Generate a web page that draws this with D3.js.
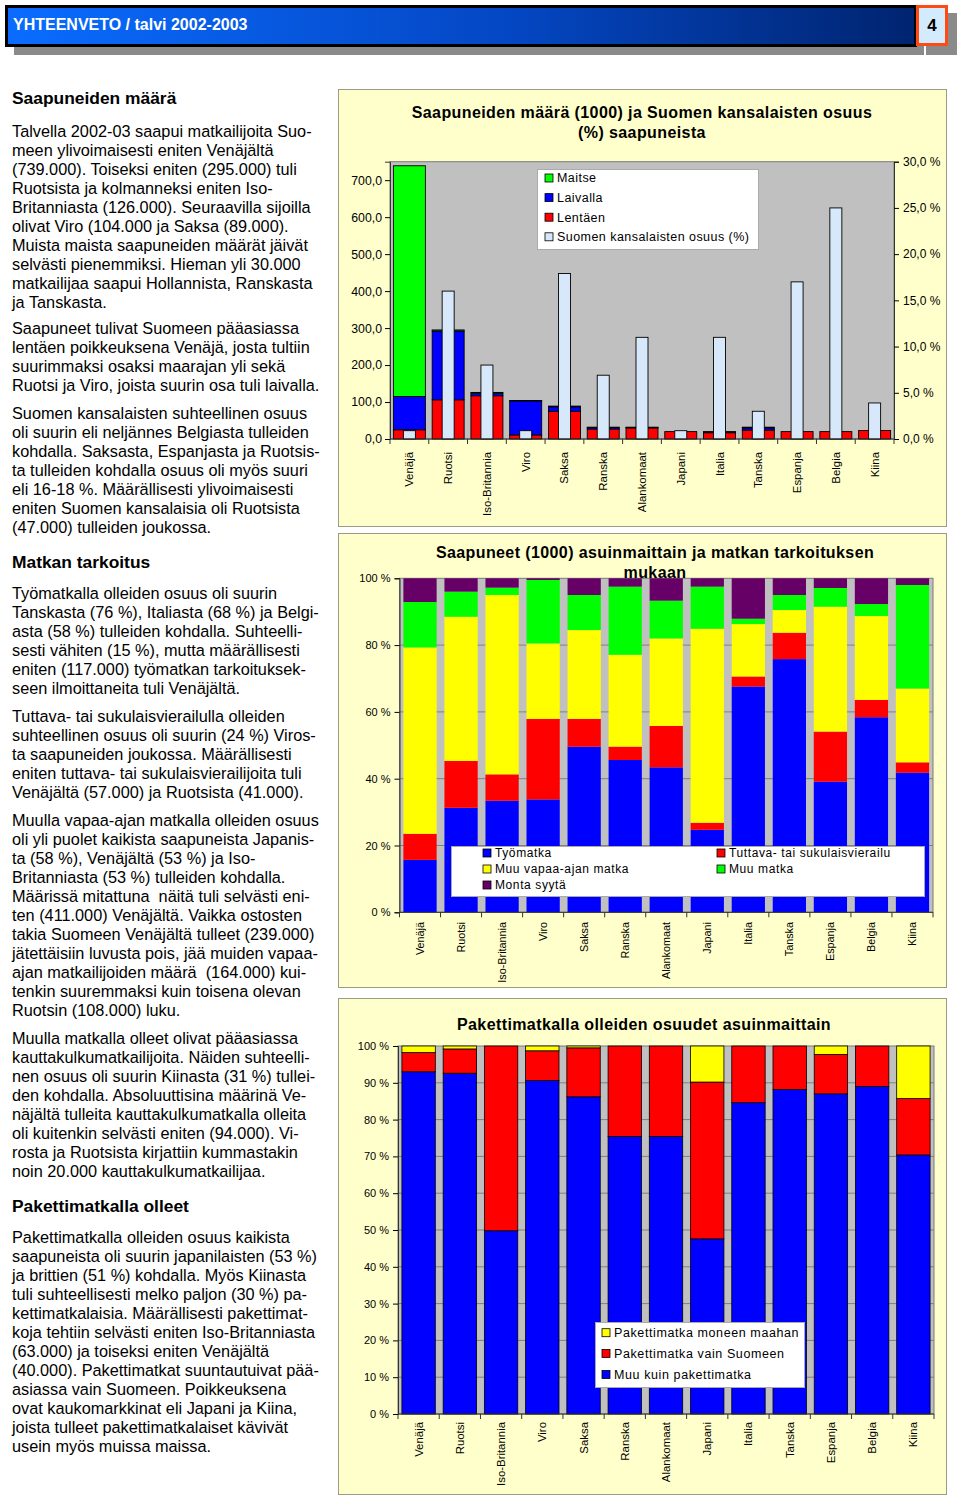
<!DOCTYPE html>
<html><head><meta charset="utf-8">
<script src="https://cdn.jsdelivr.net/npm/d3@7"></script>
<style>
body{margin:0;background:#fff}
svg{display:block}
text{font-family:"Liberation Sans",Arial,sans-serif;white-space:pre}
</style>
</head><body>
<svg id="c" width="960" height="1498"></svg>
<script>
// ---------------- DATA ----------------
const countries = ["Venäjä","Ruotsi","Iso-Britannia","Viro","Saksa","Ranska","Alankomaat","Japani","Italia","Tanska","Espanja","Belgia","Kiina"];

// Chart 1: arrivals (1000) by mode + share of Finnish citizens (%)
const lentaen  = [25,106,117,11,75,27,30,20,17,24,20,20,23];
const laivalla = [90,186,7,92,12,4,1,0,2,6,0,0,0];
const maitse   = [624,3,2,1,2,1,1,0,1,2,0,0,0];
const suomenOsuus = [0.9,16.0,8.0,0.9,17.9,6.9,11.0,0.9,11.0,3.0,17.0,25.0,3.9];
const c1LeftTicks = [0,100,200,300,400,500,600,700];
const c1RightTicks = [0,5,10,15,20,25,30];

// Chart 2: purpose of trip (%)
const tyomatka = [15.7,31.3,33.4,33.8,49.6,45.6,43.4,24.7,67.6,75.8,39.1,58.4,41.8];
const tuttava  = [7.8,14.0,7.9,24.1,8.3,4.0,12.4,2.1,3.0,7.9,15.0,5.2,3.1];
const vapaa    = [55.8,43.2,53.7,22.6,26.6,27.5,26.2,58.1,15.7,6.8,37.4,25.1,22.1];
const muuMatka = [13.6,7.5,2.2,19.0,10.5,20.4,11.3,12.6,1.6,4.5,5.6,3.6,31.0];
const monta    = [7.1,4.0,2.8,0.5,5.0,2.5,6.7,2.5,12.1,5.0,2.9,7.7,2.0];
const c2Ticks = [0,20,40,60,80,100];

// Chart 3: package tours (%)
const muuKuin     = [93.0,92.6,49.8,90.6,86.2,75.4,75.4,47.6,84.6,88.2,87.0,89.0,70.4];
const vainSuomeen = [5.2,6.6,50.2,8.1,13.3,24.6,24.6,42.6,15.4,11.8,10.7,11.0,15.3];
const moneen      = [1.8,0.8,0.0,1.3,0.5,0.0,0.0,9.8,0.0,0.0,2.3,0.0,14.3];
const c3Ticks = [0,10,20,30,40,50,60,70,80,90,100];

// Text column
const textBlocks = [
 {h:true, y:98, lines:["Saapuneiden määrä"]},
 {y:131, lines:["Talvella 2002-03 saapui matkailijoita Suo-","meen ylivoimaisesti eniten Venäjältä","(739.000). Toiseksi eniten (295.000) tuli","Ruotsista ja kolmanneksi eniten Iso-","Britanniasta (126.000). Seuraavilla sijoilla","olivat Viro (104.000 ja Saksa (89.000).","Muista maista saapuneiden määrät jäivät","selvästi pienemmiksi. Hieman yli 30.000","matkailijaa saapui Hollannista, Ranskasta","ja Tanskasta."]},
 {y:328, lines:["Saapuneet tulivat Suomeen pääasiassa","lentäen poikkeuksena Venäjä, josta tultiin","suurimmaksi osaksi maarajan yli sekä","Ruotsi ja Viro, joista suurin osa tuli laivalla."]},
 {y:413, lines:["Suomen kansalaisten suhteellinen osuus","oli suurin eli neljännes Belgiasta tulleiden","kohdalla. Saksasta, Espanjasta ja Ruotsis-","ta tulleiden kohdalla osuus oli myös suuri","eli 16-18 %. Määrällisesti ylivoimaisesti","eniten Suomen kansalaisia oli Ruotsista","(47.000) tulleiden joukossa."]},
 {h:true, y:562, lines:["Matkan tarkoitus"]},
 {y:593, lines:["Työmatkalla olleiden osuus oli suurin","Tanskasta (76 %), Italiasta (68 %) ja Belgi-","asta (58 %) tulleiden kohdalla. Suhteelli-","sesti vähiten (15 %), mutta määrällisesti","eniten (117.000) työmatkan tarkoituksek-","seen ilmoittaneita tuli Venäjältä."]},
 {y:716, lines:["Tuttava- tai sukulaisvierailulla olleiden","suhteellinen osuus oli suurin (24 %) Viros-","ta saapuneiden joukossa. Määrällisesti","eniten tuttava- tai sukulaisvierailijoita tuli","Venäjältä (57.000) ja Ruotsista (41.000)."]},
 {y:820, lines:["Muulla vapaa-ajan matkalla olleiden osuus","oli yli puolet kaikista saapuneista Japanis-","ta (58 %), Venäjältä (53 %) ja Iso-","Britanniasta (53 %) tulleiden kohdalla.","Määrissä mitattuna  näitä tuli selvästi eni-","ten (411.000) Venäjältä. Vaikka ostosten","takia Suomeen Venäjältä tulleet (239.000)","jätettäisiin luvusta pois, jää muiden vapaa-","ajan matkailijoiden määrä  (164.000) kui-","tenkin suuremmaksi kuin toisena olevan","Ruotsin (108.000) luku."]},
 {y:1038, lines:["Muulla matkalla olleet olivat pääasiassa","kauttakulkumatkailijoita. Näiden suhteelli-","nen osuus oli suurin Kiinasta (31 %) tullei-","den kohdalla. Absoluuttisina määrinä Ve-","näjältä tulleita kauttakulkumatkalla olleita","oli kuitenkin selvästi eniten (94.000). Vi-","rosta ja Ruotsista kirjattiin kummastakin","noin 20.000 kauttakulkumatkailijaa."]},
 {h:true, y:1206, lines:["Pakettimatkalla olleet"]},
 {y:1237, lines:["Pakettimatkalla olleiden osuus kaikista","saapuneista oli suurin japanilaisten (53 %)","ja brittien (51 %) kohdalla. Myös Kiinasta","tuli suhteellisesti melko paljon (30 %) pa-","kettimatkalaisia. Määrällisesti pakettimat-","koja tehtiin selvästi eniten Iso-Britanniasta","(63.000) ja toiseksi eniten Venäjältä","(40.000). Pakettimatkat suuntautuivat pää-","asiassa vain Suomeen. Poikkeuksena","ovat kaukomarkkinat eli Japani ja Kiina,","joista tulleet pakettimatkalaiset kävivät","usein myös muissa maissa."]}
];

// ---------------- DRAW ----------------
const svg = d3.select("#c");
const fmtComma = d => d3.format(".1f")(d).replace(".", ",");

// Header
const defs = svg.append("defs");
const hg = defs.append("linearGradient").attr("id","hg").attr("x1","0").attr("x2","1").attr("y1","0").attr("y2","0");
hg.append("stop").attr("offset","0").attr("stop-color","#0a6cff");
hg.append("stop").attr("offset","0.55").attr("stop-color","#0447c4");
hg.append("stop").attr("offset","1").attr("stop-color","#002470");
svg.append("rect").attr("x",14).attr("y",13).attr("width",910).attr("height",42).attr("fill","#8a8a8a");
svg.append("rect").attr("x",5).attr("y",5).attr("width",912).attr("height",42).attr("fill","#000");
svg.append("rect").attr("x",8).attr("y",8).attr("width",906).attr("height",36).attr("fill","url(#hg)");
svg.append("text").attr("x",13).attr("y",30).attr("fill","#fff").attr("font-weight","bold")
  .attr("font-size",16).text("YHTEENVETO / talvi 2002-2003");
svg.append("rect").attr("x",926).attr("y",13).attr("width",31).attr("height",42).attr("fill","#8a8a8a");
svg.append("rect").attr("x",917.5).attr("y",6.5).attr("width",29).attr("height",38)
  .attr("fill","#d3ebff").attr("stroke","#ff4a12").attr("stroke-width",3);
svg.append("text").attr("x",932).attr("y",31).attr("text-anchor","middle").attr("font-weight","bold")
  .attr("font-size",17).text("4");

// Text column
textBlocks.forEach(b => {
  b.lines.forEach((ln, i) => {
    svg.append("text").attr("x",12).attr("y", b.y + i*19).attr("dy","0.35em")
      .attr("font-size", b.h ? 17.4 : 16.3).attr("font-weight", b.h ? "bold" : "normal")
      .attr("fill","#000").text(ln);
  });
});

// Helpers
function panel(x,y,w,h){
  svg.append("rect").attr("x",x+0.5).attr("y",y+0.5).attr("width",w).attr("height",h)
    .attr("fill","#ffffcc").attr("stroke","#9a9a86").attr("stroke-width",1);
}
function title(lines, cx, y0){
  lines.forEach((t,i)=>{
    svg.append("text").attr("x",cx).attr("y",y0+i*20.5).attr("dy","0.35em").attr("text-anchor","middle")
      .attr("font-size",16).attr("font-weight","bold").attr("letter-spacing",0.4).text(t);
  });
}
function catLabels(x, y0, fs){
  svg.append("g").selectAll("text").data(countries).join("text")
    .attr("transform", d => `translate(${x(d)+x.bandwidth()/2},${y0}) rotate(-90)`)
    .attr("text-anchor","end").attr("dy","0.35em").attr("font-size",fs).text(d=>d);
}
function catTicks(x, yb){
  const step = x.step();
  const xs = countries.map(d => x(d) - (step - x.bandwidth())/2);
  xs.push(x.range()[1]);
  svg.append("g").selectAll("line").data(xs).join("line")
    .attr("x1",d=>d).attr("x2",d=>d).attr("y1",yb).attr("y2",yb+5).attr("stroke","#333");
}
function legend(x,y,w,h,items,fs,ls){
  svg.append("rect").attr("x",x+0.5).attr("y",y+0.5).attr("width",w).attr("height",h)
    .attr("fill","#fff").attr("stroke","#aaa");
  items.forEach(it=>{
    svg.append("rect").attr("x",it.x).attr("y",it.y-4).attr("width",8).attr("height",8)
      .attr("fill",it.c).attr("stroke","#000").attr("stroke-width",0.8);
    svg.append("text").attr("x",it.x+12).attr("y",it.y).attr("dy","0.35em")
      .attr("font-size",fs).attr("letter-spacing",ls).text(it.t);
  });
}

// ---------- Chart 1 ----------
panel(338,89,608,437);
const P1 = {l:390, r:894, t:161.7, b:439};
const x1 = d3.scaleBand().domain(countries).range([P1.l,P1.r]).paddingInner(0.175).paddingOuter(0.0875);
const yL = d3.scaleLinear().domain([0,750]).range([P1.b,P1.t]);
const yR = d3.scaleLinear().domain([0,30]).range([P1.b,P1.t]);
svg.append("rect").attr("x",P1.l).attr("y",P1.t).attr("width",P1.r-P1.l).attr("height",P1.b-P1.t)
  .attr("fill","#c0c0c0").attr("stroke","#7a7a7a");
const rows1 = countries.map((c,i)=>({c, Lentäen:lentaen[i], Laivalla:laivalla[i], Maitse:maitse[i], osuus:suomenOsuus[i]}));
const keys1 = ["Lentäen","Laivalla","Maitse"];
const col1 = {"Lentäen":"#ff0000","Laivalla":"#0000ff","Maitse":"#00ff00"};
const st1 = d3.stack().keys(keys1)(rows1);
svg.append("g").selectAll("g").data(st1).join("g").attr("fill",s=>col1[s.key])
  .selectAll("rect").data(s=>s).join("rect")
  .attr("x",d=>x1(d.data.c)).attr("width",x1.bandwidth())
  .attr("y",d=>yL(d[1])).attr("height",d=>Math.max(0,yL(d[0])-yL(d[1])))
  .attr("stroke","#000").attr("stroke-width",0.9);
const lbw = 12;
svg.append("g").selectAll("rect").data(rows1).join("rect")
  .attr("x",d=>x1(d.c)+x1.bandwidth()/2-lbw/2).attr("width",lbw)
  .attr("y",d=>yR(d.osuus)).attr("height",d=>yR(0)-yR(d.osuus))
  .attr("fill","#d6e8fa").attr("stroke","#000").attr("stroke-width",0.9);
const aL1 = svg.append("g").attr("transform",`translate(${P1.l},0)`)
  .call(d3.axisLeft(yL).tickValues(c1LeftTicks).tickSize(5).tickFormat(fmtComma));
aL1.select(".domain").attr("stroke","#333");
aL1.selectAll("text").attr("font-size",12.3).attr("font-family","Liberation Sans, Arial").attr("fill","#000").attr("x",-8);
const aR1 = svg.append("g").attr("transform",`translate(${P1.r},0)`)
  .call(d3.axisRight(yR).tickValues(c1RightTicks).tickSize(5).tickFormat(d=>fmtComma(d)+" %"));
aR1.select(".domain").attr("stroke","#333");
aR1.selectAll("text").attr("font-size",12).attr("font-family","Liberation Sans, Arial").attr("fill","#000").attr("x",9);
svg.append("line").attr("x1",P1.l).attr("x2",P1.r).attr("y1",P1.b).attr("y2",P1.b).attr("stroke","#333");
catTicks(x1,P1.b);
catLabels(x1, 452, 11.4);
legend(537,169,221,80,[
  {x:545,y:178,c:"#00ff00",t:"Maitse"},
  {x:545,y:197.6,c:"#0000ff",t:"Laivalla"},
  {x:545,y:217.2,c:"#ff0000",t:"Lentäen"},
  {x:545,y:236.8,c:"#d6e8fa",t:"Suomen kansalaisten osuus (%)"}
],12.5,0.45);
title(["Saapuneiden määrä (1000) ja Suomen kansalaisten osuus","(%) saapuneista"], 642, 112);

// ---------- Chart 2 ----------
panel(338,533,608,454);
const P2 = {l:399.5, r:933, t:578.3, b:912.3};
const x2 = d3.scaleBand().domain(countries).range([P2.l,P2.r]).paddingInner(0.19).paddingOuter(0.095);
const y2 = d3.scaleLinear().domain([0,100]).range([P2.b,P2.t]);
svg.append("rect").attr("x",P2.l).attr("y",P2.t).attr("width",P2.r-P2.l).attr("height",P2.b-P2.t)
  .attr("fill","#c0c0c0").attr("stroke","#7a7a7a");
svg.append("g").selectAll("line").data(c2Ticks.filter(t=>t>0&&t<100)).join("line")
  .attr("x1",P2.l).attr("x2",P2.r).attr("y1",d=>y2(d)).attr("y2",d=>y2(d)).attr("stroke","#808080");
const rows2 = countries.map((c,i)=>({c, a:tyomatka[i], b:tuttava[i], v:vapaa[i], m:muuMatka[i], s:monta[i]}));
const keys2 = ["a","b","v","m","s"];
const col2 = {a:"#0000ff", b:"#ff0000", v:"#ffff00", m:"#00ff00", s:"#660066"};
const st2 = d3.stack().keys(keys2)(rows2);
svg.append("g").selectAll("g").data(st2).join("g").attr("fill",s=>col2[s.key])
  .selectAll("rect").data(s=>s).join("rect")
  .attr("x",d=>x2(d.data.c)).attr("width",x2.bandwidth())
  .attr("y",d=>y2(d[1])).attr("height",d=>Math.max(0,y2(d[0])-y2(d[1])));
const aL2 = svg.append("g").attr("transform",`translate(${P2.l},0)`)
  .call(d3.axisLeft(y2).tickValues(c2Ticks).tickSize(5).tickFormat(d=>d+" %"));
aL2.select(".domain").attr("stroke","#333");
aL2.selectAll("text").attr("font-size",11).attr("font-family","Liberation Sans, Arial").attr("fill","#000").attr("x",-9);
svg.append("line").attr("x1",P2.l).attr("x2",P2.r).attr("y1",P2.b).attr("y2",P2.b).attr("stroke","#333");
catTicks(x2,P2.b);
catLabels(x2, 922, 10.8);
legend(451,846,473,50,[
  {x:483,y:853,c:"#0000ff",t:"Työmatka"},
  {x:717,y:853,c:"#ff0000",t:"Tuttava- tai sukulaisvierailu"},
  {x:483,y:869,c:"#ffff00",t:"Muu vapaa-ajan matka"},
  {x:717,y:869,c:"#00ff00",t:"Muu matka"},
  {x:483,y:885,c:"#660066",t:"Monta syytä"}
],12,0.6);
title(["Saapuneet (1000) asuinmaittain ja matkan tarkoituksen","mukaan"], 655, 552);

// ---------- Chart 3 ----------
panel(338,998,608,496);
const P3 = {l:398, r:934, t:1046, b:1414};
const x3 = d3.scaleBand().domain(countries).range([P3.l,P3.r]).paddingInner(0.19).paddingOuter(0.095);
const y3 = d3.scaleLinear().domain([0,100]).range([P3.b,P3.t]);
svg.append("rect").attr("x",P3.l).attr("y",P3.t).attr("width",P3.r-P3.l).attr("height",P3.b-P3.t)
  .attr("fill","#c0c0c0").attr("stroke","#7a7a7a");
svg.append("g").selectAll("line").data(c3Ticks.filter(t=>t>0&&t<100)).join("line")
  .attr("x1",P3.l).attr("x2",P3.r).attr("y1",d=>y3(d)).attr("y2",d=>y3(d)).attr("stroke","#808080");
const rows3 = countries.map((c,i)=>({c, m:muuKuin[i], v:vainSuomeen[i], p:moneen[i]}));
const keys3 = ["m","v","p"];
const col3 = {m:"#0000ff", v:"#ff0000", p:"#ffff00"};
const st3 = d3.stack().keys(keys3)(rows3);
svg.append("g").selectAll("g").data(st3).join("g").attr("fill",s=>col3[s.key])
  .selectAll("rect").data(s=>s.filter(d=>d[1]-d[0]>0)).join("rect")
  .attr("x",d=>x3(d.data.c)).attr("width",x3.bandwidth())
  .attr("y",d=>y3(d[1])).attr("height",d=>Math.max(0,y3(d[0])-y3(d[1])))
  .attr("stroke","#000").attr("stroke-width",0.8);
const aL3 = svg.append("g").attr("transform",`translate(${P3.l},0)`)
  .call(d3.axisLeft(y3).tickValues(c3Ticks).tickSize(5).tickFormat(d=>d+" %"));
aL3.select(".domain").attr("stroke","#333");
aL3.selectAll("text").attr("font-size",11).attr("font-family","Liberation Sans, Arial").attr("fill","#000").attr("x",-9);
svg.append("line").attr("x1",P3.l).attr("x2",P3.r).attr("y1",P3.b).attr("y2",P3.b).attr("stroke","#333");
catTicks(x3,P3.b);
catLabels(x3, 1422, 11.4);
legend(595,1322,209,65,[
  {x:602,y:1332.7,c:"#ffff00",t:"Pakettimatka moneen maahan"},
  {x:602,y:1353.5,c:"#ff0000",t:"Pakettimatka vain Suomeen"},
  {x:602,y:1374.5,c:"#0000ff",t:"Muu kuin pakettimatka"}
],12.5,0.6);
title(["Pakettimatkalla olleiden osuudet asuinmaittain"], 644, 1024);
</script>
</body></html>
